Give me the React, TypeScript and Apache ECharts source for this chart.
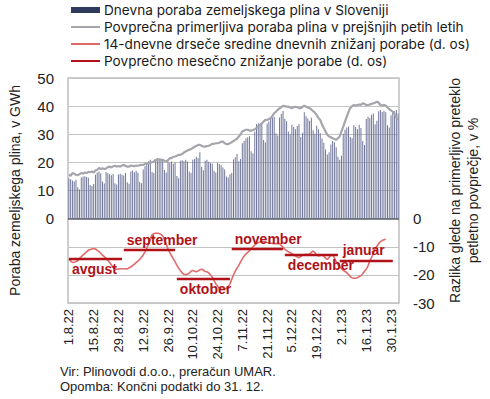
import React, { useEffect, useRef } from "react";
import * as echarts from "echarts";

// Categories: daily dates from 1.8.22 to 3.2.23
const startDate = new Date(2022, 7, 1);
const dayCount = 187;
const categories: string[] = [];
for (let i = 0; i < dayCount; i++) {
  const d = new Date(startDate.getFullYear(), startDate.getMonth(), startDate.getDate() + i);
  categories.push(`${d.getDate()}.${d.getMonth() + 1}.${String(d.getFullYear()).slice(2)}`);
}

// Daily natural gas consumption in Slovenia, GWh
const dailyConsumption = [
  14.4, 14.0, 13.6, 13.2, 13.8, 11.2, 10.4,
  14.6, 14.9, 15.1, 14.8, 14.5, 12.0, 11.6,
  12.3, 15.6, 16.4, 16.8, 16.1, 13.2, 12.5,
  16.6, 16.2, 15.8, 15.4, 15.9, 12.6, 12.1,
  15.7, 16.0, 15.6, 15.3, 16.2, 12.9, 12.4,
  16.8, 17.1, 16.5, 16.9, 16.3, 13.0, 12.6,
  17.5, 18.6, 19.8, 20.4, 20.9, 16.6, 16.2,
  21.2, 21.6, 20.9, 21.4, 20.8, 17.3, 16.4,
  20.4, 19.8, 20.3, 19.5, 20.0, 15.2, 14.4,
  20.6, 20.8, 20.4, 20.9, 20.3, 16.8, 16.2,
  20.9, 21.2, 22.0, 21.5, 23.6, 18.4, 17.2,
  20.6, 20.9, 20.2, 19.8, 19.5, 17.0, 16.4,
  19.8, 19.4, 19.0, 18.2, 17.5, 15.0, 14.6,
  15.8, 16.2, 21.0, 21.8, 23.0, 20.4, 21.2,
  26.8, 27.6, 28.5, 28.9, 29.3, 24.0, 23.2,
  31.0, 33.6, 33.9, 33.4, 34.0, 28.0, 27.2,
  33.8, 34.5, 35.7, 35.9, 36.2, 30.4, 29.6,
  36.0, 37.2, 38.3, 35.5, 34.6, 31.0, 30.0,
  33.4, 32.6, 31.8, 32.9, 33.6, 29.0, 30.5,
  37.8, 36.4, 35.6, 34.8, 35.9, 31.4, 30.2,
  33.0, 31.8, 30.4, 28.5, 27.0, 24.6, 22.8,
  23.6, 26.4, 27.6, 27.2, 25.4, 22.0, 20.9,
  22.4, 30.2, 31.6, 32.4, 32.8, 29.0, 28.6,
  33.2, 32.6, 31.8, 33.4, 32.2, 27.6, 26.2,
  35.4, 36.2, 35.8, 36.9, 37.4, 33.6, 34.8,
  38.2, 38.6, 37.9, 38.4, 37.8, 33.2, 32.4,
  36.8, 37.8, 38.2, 38.6, 37.4,
];

// Average comparable consumption in the previous five years, GWh
const fiveYearAverage = [
  15.6, 15.2, 16.2, 16.0, 15.6, 15.4, 15.8, 16.2, 16.0, 16.4,
  16.2, 16.6, 16.5, 16.8, 16.4, 17.1, 17.4, 18.0, 17.6, 17.9,
  17.6, 17.8, 18.3, 18.5, 18.2, 18.6, 18.8, 18.5, 18.7, 18.5,
  18.9, 19.1, 18.7, 18.5, 18.5, 18.9, 18.8, 18.6, 18.9, 18.8,
  19.0, 19.1, 19.1, 19.4, 19.7, 19.6, 20.0, 20.0, 20.3, 20.9,
  20.9, 21.1, 20.8, 20.9, 20.6, 20.3, 20.8, 21.5, 21.5, 22.0,
  22.1, 22.3, 22.7, 22.7, 23.0, 23.5, 23.9, 24.2, 24.5, 24.7,
  25.1, 25.6, 25.8, 26.2, 26.2, 25.9, 25.6, 25.6, 25.8, 25.9,
  26.2, 26.6, 26.6, 26.8, 26.8, 27.0, 27.4, 27.4, 26.8, 26.5,
  26.5, 26.8, 27.2, 27.6, 28.0, 28.4, 29.2, 30.0, 31.0, 31.3,
  31.6, 31.6, 31.3, 31.3, 31.5, 31.8, 32.2, 32.8, 33.4, 33.9,
  34.5, 35.1, 35.1, 35.4, 35.7, 36.5, 37.5, 38.0, 38.7, 39.2,
  39.6, 40.1, 40.0, 39.8, 39.8, 39.5, 39.3, 39.6, 39.8, 39.6,
  39.3, 39.3, 39.8, 40.1, 39.8, 39.5, 39.3, 38.8, 38.2, 37.7,
  36.8, 35.8, 35.1, 33.5, 32.2, 31.0, 29.8, 29.2, 28.9, 28.6,
  28.3, 28.0, 28.6, 29.2, 31.0, 32.7, 34.5, 36.3, 38.0, 39.3,
  40.0, 40.4, 40.2, 40.4, 40.6, 40.4, 41.0, 40.8, 40.4, 40.4,
  40.6, 40.8, 41.0, 41.2, 41.6, 41.2, 40.4, 40.2, 40.4, 40.2,
  39.5, 38.9, 38.5, 38.0, 37.2, 36.0, 35.1,
];

// 14-day moving average of daily reductions, % (right axis)
const movingAvgReduction = [
  -14.5, -15.0, -15.6, -15.5, -15.2, -15.0, -14.2, -13.5, -12.9, -12.4,
  -11.8, -11.2, -11.0, -10.8, -10.6, -10.8, -11.3, -11.7, -12.3, -13.0,
  -13.5, -14.1, -14.8, -15.6, -16.5, -17.4, -17.8, -18.0, -17.9, -17.8,
  -17.8, -17.8, -17.8, -17.9, -17.5, -17.2, -16.7, -16.2, -15.6, -15.1,
  -14.5, -13.7, -12.9, -11.8, -10.5, -9.1, -7.2, -5.8, -5.3, -5.2,
  -5.2, -5.3, -5.6, -6.1, -7.5, -9.1, -10.7, -12.1, -13.2, -14.3,
  -15.4, -16.5, -17.6, -18.5, -19.3, -19.8, -19.9, -19.8, -19.4, -18.7,
  -18.4, -18.7, -18.9, -18.6, -18.2, -18.0, -18.3, -18.8, -18.9, -19.3,
  -20.0, -20.8, -22.0, -23.2, -24.0, -24.7, -25.2, -25.1, -25.0, -24.8,
  -24.2, -23.2, -21.6, -20.0, -18.7, -17.6, -16.6, -15.4, -14.3, -13.3,
  -12.6, -12.0, -11.5, -10.7, -10.0, -9.4, -8.9, -8.5, -8.3, -8.2,
  -8.2, -8.3, -8.5, -8.6, -8.7, -8.8, -8.9, -8.9, -8.9, -8.9,
  -9.5, -10.2, -10.9, -11.4, -11.8, -12.1, -12.5, -12.9, -13.3, -13.6,
  -13.9, -13.5, -12.9, -12.8, -12.7, -12.8, -12.6, -12.0, -11.5, -12.1,
  -12.9, -13.3, -13.1, -12.8, -13.4, -14.1, -14.5, -13.8, -13.1, -12.8,
  -14.0, -15.3, -16.3, -17.0, -17.8, -18.4, -18.8, -19.2, -19.9, -20.7,
  -21.0, -21.2, -21.2, -21.0, -20.6, -20.3, -19.6, -18.7, -18.0, -16.8,
  -15.0, -13.8, -12.3, -10.9, -9.9, -8.9, -8.2, -7.8, -7.5, -7.3,
  null, null, null, null, null, null, null,
];

// Average monthly reduction, % (right axis)
const monthNames = ["avgust", "september", "oktober", "november", "december", "januar"];
const monthStartIdx = [0, 31, 61, 92, 122, 153];
const monthEndIdx = [30, 60, 91, 121, 152, 183];
const monthAvgReduction = [-14.2, -11.0, -21.3, -10.7, -12.9, -14.8];
const monthLabelPos = [
  "insideStartBottom",
  "insideStartTop",
  "insideStartBottom",
  "insideStartTop",
  "insideStartBottom",
  "insideStartTop",
];

const leftTicks = [0, 10, 20, 30, 40, 50];
const rightTicks = [0, -10, -20, -30];

const seriesNames = [
  "Dnevna poraba zemeljskega plina v Sloveniji",
  "Povprečna primerljiva poraba plina v prejšnjih petih letih",
  "14-dnevne drseče sredine dnevnih znižanj porabe (d. os)",
  "Povprečno mesečno znižanje porabe (d. os)",
];

const FONT = "Liberation Sans";
const LEGEND_FONT = "Inter";
const DARK_RED = "#b01218";

export default function App() {
  const ref = useRef<HTMLDivElement>(null);
  useEffect(() => {
    if (!ref.current) return;
    const chart = echarts.init(ref.current, null, { renderer: "svg" });
    const hiddenSymbol = { opacity: 0 };
    const option: any = {
      animation: false,
      textStyle: { fontFamily: FONT },
      legend: {
        orient: "vertical",
        left: 70,
        top: 3,
        padding: 0,
        itemWidth: 29,
        itemHeight: 6,
        itemGap: 3,
        textStyle: { fontFamily: LEGEND_FONT, fontSize: 13.6, color: "#1a1a1a", lineHeight: 14, padding: [0, 0, 0, -1] },
        data: [
          { name: seriesNames[0], icon: "rect", itemStyle: { color: "#2f3a5c" } },
          { name: seriesNames[1], itemStyle: hiddenSymbol },
          { name: seriesNames[2], itemStyle: hiddenSymbol },
          { name: seriesNames[3], itemStyle: hiddenSymbol },
        ],
      },
      grid: {
        left: 67,
        right: 79,
        top: 78,
        bottom: 96,
        show: true,
        borderColor: "#bfbfbf",
        borderWidth: 1.5,
      },
      xAxis: {
        type: "category",
        data: categories,
        boundaryGap: true,
        axisLine: { show: false },
        axisTick: { show: false },
        splitLine: { show: false },
        axisLabel: {
          interval: 13,
          rotate: 90,
          fontSize: 13,
          color: "#222",
          margin: 6,
          fontFamily: FONT,
        },
      },
      yAxis: [
        {
          type: "value",
          min: -30,
          max: 50,
          interval: 10,
          name: "Poraba zemeljskega plina, v GWh",
          nameLocation: "middle",
          nameRotate: 90,
          nameGap: 46,
          nameTextStyle: { fontFamily: FONT, fontSize: 14, color: "#222" },
          axisLine: { show: false },
          axisTick: { show: false },
          axisLabel: {
            fontSize: 15,
            color: "#222",
            margin: 14,
            fontFamily: FONT,
            formatter: (v: number) => (leftTicks.includes(v) ? String(v) : ""),
          },
          splitLine: { show: true, lineStyle: { color: "#c4c4c4", width: 1.2 } },
        },
        {
          type: "value",
          min: -30,
          max: 50,
          interval: 10,
          position: "right",
          name: "Razlika glede na primerljivo preteklo\npetletno povprečje, v %",
          nameLocation: "middle",
          nameRotate: 90,
          nameGap: 47,
          nameTextStyle: { fontFamily: FONT, fontSize: 14, color: "#222", lineHeight: 18 },
          axisLine: { show: false },
          axisTick: { show: false },
          axisLabel: {
            fontSize: 15,
            color: "#222",
            margin: 14,
            fontFamily: FONT,
            formatter: (v: number) => (rightTicks.includes(v) ? String(v) : ""),
          },
          splitLine: { show: false },
        },
      ],
      series: [
        {
          name: seriesNames[0],
          type: "bar",
          data: dailyConsumption,
          yAxisIndex: 0,
          barWidth: "56%",
          itemStyle: { color: "#71779a" },
          markLine: {
            silent: true,
            symbol: ["none", "none"],
            label: { show: false },
            lineStyle: { color: "#5b5f70", width: 1.5, type: "solid" },
            data: [{ yAxis: 0 }],
          },
        },
        {
          name: seriesNames[1],
          type: "line",
          data: fiveYearAverage,
          yAxisIndex: 0,
          symbol: "none",
          showSymbol: false,
          lineStyle: { color: "#a4a6ab", width: 2.2 },
          itemStyle: { color: "#a4a6ab" },
        },
        {
          name: seriesNames[2],
          type: "line",
          data: movingAvgReduction,
          yAxisIndex: 1,
          symbol: "none",
          showSymbol: false,
          lineStyle: { color: "#e06a6a", width: 1.6 },
          itemStyle: { color: "#e06a6a" },
        },
        {
          name: seriesNames[3],
          type: "line",
          data: categories.map(() => null),
          yAxisIndex: 1,
          symbol: "none",
          showSymbol: false,
          lineStyle: { color: DARK_RED, width: 2.4 },
          itemStyle: { color: DARK_RED },
          markLine: {
            silent: true,
            symbol: ["none", "none"],
            lineStyle: { color: DARK_RED, width: 2.4, type: "solid" },
            data: monthNames.map((m, i) => [
              {
                coord: [monthStartIdx[i], monthAvgReduction[i]],
                label: {
                  show: true,
                  formatter: m,
                  position: monthLabelPos[i],
                  color: DARK_RED,
                  fontWeight: "bold",
                  fontSize: 14,
                  fontFamily: FONT,
                  distance: 3,
                },
              },
              { coord: [monthEndIdx[i], monthAvgReduction[i]] },
            ]),
          },
        },
      ],
      graphic: [
        {
          type: "text",
          left: 60,
          top: 365,
          style: { text: "Vir: Plinovodi d.o.o., preračun UMAR.", fontSize: 13, fontFamily: FONT, fill: "#222" },
        },
        {
          type: "text",
          left: 60,
          top: 380,
          style: { text: "Opomba: Končni podatki do 31. 12.", fontSize: 13, fontFamily: FONT, fill: "#222" },
        },
      ],
    };
    chart.setOption(option);
    return () => chart.dispose();
  }, []);
  return (
    <div
      ref={ref}
      style={{ position: "absolute", left: 0, top: 0, width: 490, height: 399 }}
    />
  );
}
